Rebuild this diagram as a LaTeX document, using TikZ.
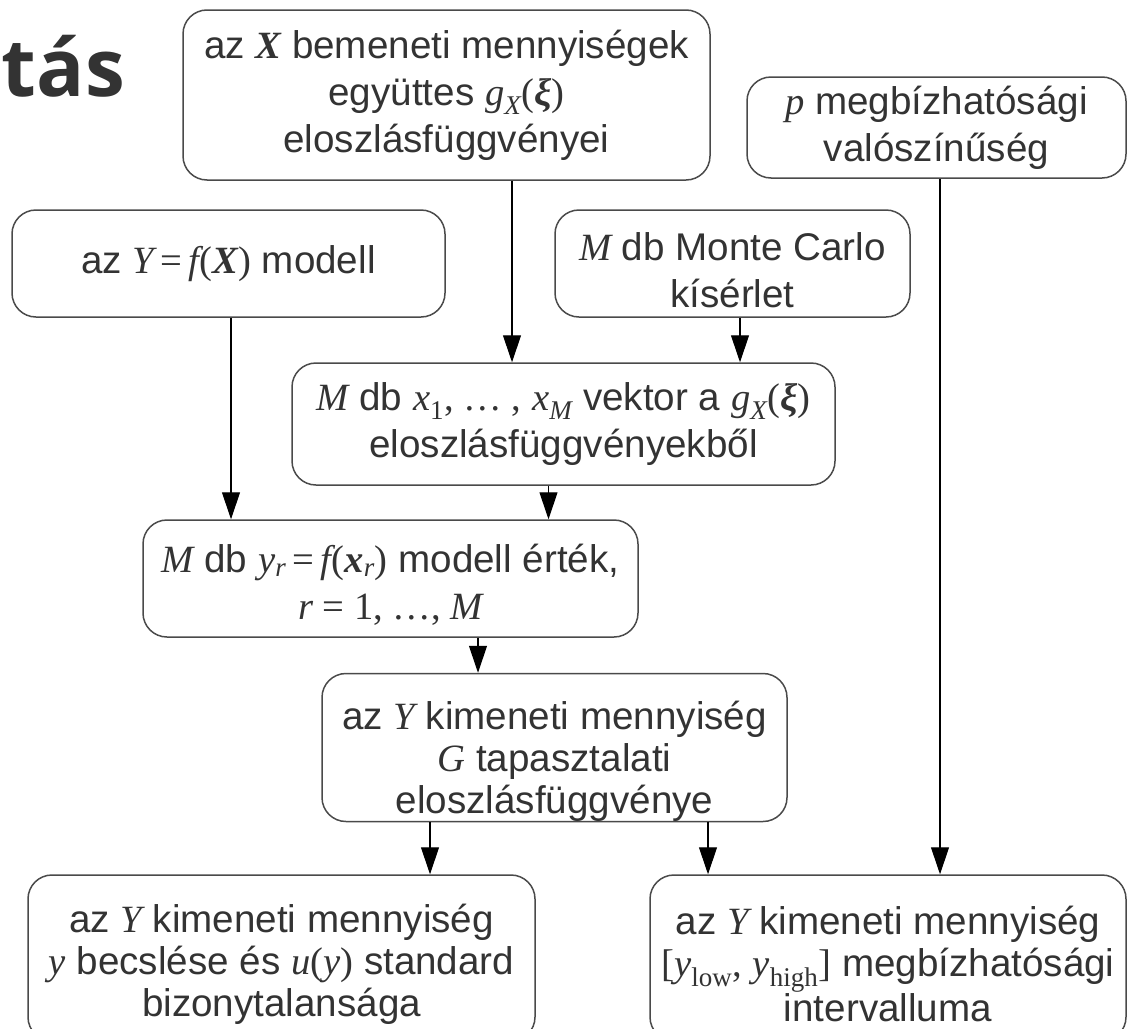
\documentclass[tikz,border=0pt]{standalone}
\usepackage{fontspec}
\setmainfont{Liberation Sans}
\newfontfamily\tms{Liberation Serif}
\newfontfamily\ttl{Open Sans}
\usepackage{xcolor}
\usetikzlibrary{arrows.meta}
\newcommand{\txi}[1]{{\tms\itshape #1}}
\newcommand{\txb}[1]{{\tms\bfseries\itshape #1}}
\definecolor{ink}{HTML}{333333}
\definecolor{edge}{HTML}{4A4A4A}

\begin{document}
\begin{tikzpicture}[
                x=1pt,y=-1pt,
                box/.style={draw=edge,line width=1.5pt,rounded corners=24pt,align=center,text=ink,
                    inner sep=0pt,font=\fontsize{38.6}{47}\selectfont},
                low/.style={font=\fontsize{38.6}{42}\selectfont},
                arr/.style={draw=black,line width=1.1pt,-{Triangle[width=18pt,length=27pt]}}
            ]
                \path[use as bounding box] (0,0) rectangle (1127,1028);
                \clip (0,0) rectangle (1127,1028);

                \node[font=\ttl\bfseries\fontsize{80}{80}\selectfont,text=ink,anchor=base east,inner sep=0pt]
                    (title) at (125,96) {tás};

                \node[box,minimum width=527pt,minimum height=170pt] (inputs) at (446.5,95)
                    {az \txb{X} bemeneti mennyiségek\\
                     együttes \txi{g}\textsubscript{\txi{X}}{\tms(}\txb{ξ}{\tms)}\\
                     eloszlásfüggvényei};
                \node[box,minimum width=379pt,minimum height=101pt] (prob) at (936.5,127.5)
                    {\txi{p} megbízhatósági\\ valószínűség};
                \node[box,minimum width=433pt,minimum height=107pt] (model) at (228.5,263.5)
                    {az \txi{Y}\,{\tms=}\,\txi{f}{\tms(}\txb{X}{\tms)} modell};
                \node[box,minimum width=355pt,minimum height=107pt] (trials) at (732.5,263.5)
                    {\rule{0pt}{42pt}\txi{M} db Monte Carlo\\ kísérlet};
                \node[box,minimum width=543pt,minimum height=122pt] (vectors) at (563.5,424)
                    {\txi{M} db \txi{x}\textsubscript{\tms 1}{\tms, … ,} \txi{x}\textsubscript{\txi{M}}
                     vektor a \txi{g}\textsubscript{\txi{X}}{\tms(}\txb{ξ}{\tms)}\\
                     eloszlásfüggvényekből};
                \node[box,minimum width=495pt,minimum height=117pt] (values) at (390.5,578.5)
                    {\rule{0pt}{40pt}\txi{M} db \txi{y}\textsubscript{\txi{r}}\,{\tms=}\,\txi{f}{\tms(}\txb{x}\textsubscript{\txi{r}}{\tms)}
                     modell érték,\\ {\tms\txi{r} = 1, …, \txi{M}}};
                \node[box,low,minimum width=465pt,minimum height=141pt] (empir) at (554.5,747.5)
                    {\rule{0pt}{56pt}az \txi{Y} kimeneti mennyiség\\ \txi{G} tapasztalati\\ eloszlásfüggvénye};
                \node[box,low,minimum width=507pt,minimum height=166pt] (estim) at (281.5,958)
                    {\rule{0pt}{40pt}az \txi{Y} kimeneti mennyiség\\
                     \txi{y} becslése és \txi{u}{\tms(}\txi{y}{\tms)} standard\\
                     bizonytalansága};
                \node[box,low,minimum width=476pt,minimum height=166pt] (interv) at (888,958)
                    {\rule{0pt}{40pt}az \txi{Y} kimeneti mennyiség\\
                     {\tms[}\txi{y}\textsubscript{\tms low}{\tms,} \txi{y}\textsubscript{\tms high}{\tms]}
                     megbízhatósági\\ intervalluma};

                \coordinate (s1) at ([xshift=65.5pt]inputs.south);
                \coordinate (s2) at ([xshift=7.5pt]trials.south);
                \coordinate (s3) at ([xshift=2.5pt]model.south);
                \coordinate (s4) at ([xshift=-15pt]vectors.south);
                \coordinate (s5) at ([xshift=87.5pt]values.south);
                \coordinate (s6) at ([xshift=-124.5pt]empir.south);
                \coordinate (s7) at ([xshift=153.5pt]empir.south);
                \coordinate (s8) at ([xshift=3.5pt]prob.south);

                \draw[arr] (s1) -- (s1 |- vectors.north);
                \draw[arr] (s2) -- (s2 |- vectors.north);
                \draw[arr] (s3) -- (s3 |- values.north);
                \draw[arr] (s4) -- (s4 |- values.north);
                \draw[arr] (s5) -- (s5 |- empir.north);
                \draw[arr] (s6) -- (s6 |- estim.north);
                \draw[arr] (s7) -- (s7 |- interv.north);
                \draw[arr] (s8) -- (s8 |- interv.north);
            \end{tikzpicture}
\end{document}
